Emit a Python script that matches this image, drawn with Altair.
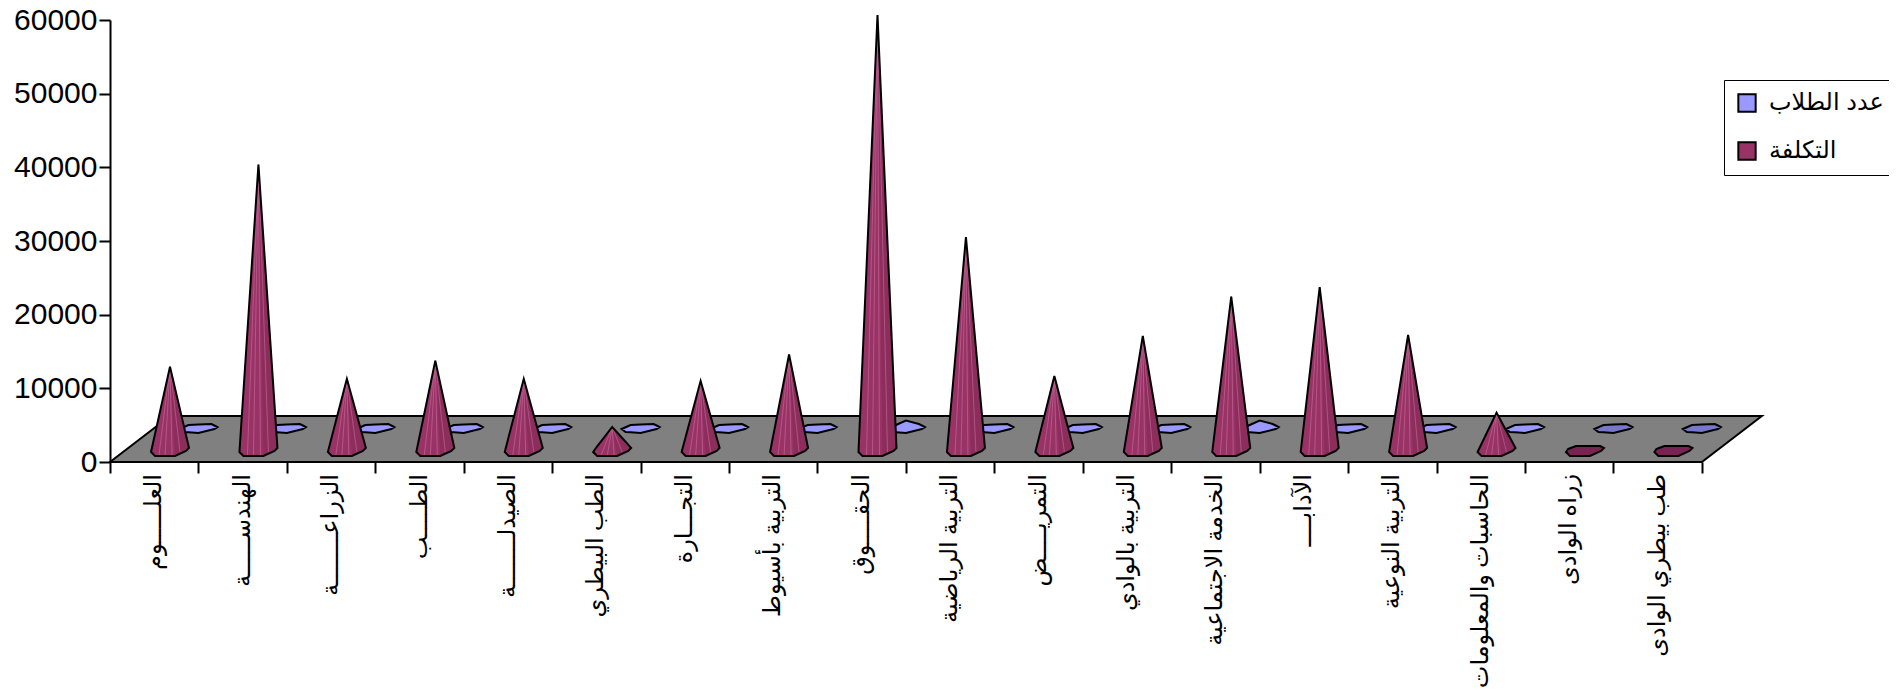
import altair as alt
import pandas as pd

categories = ["العلـــــوم", "الهندســـــة", "الزراعـــــــة", "الطــــب", "الصيدلـــــــة", "الطب البيطري",
              "التجـــارة", "التربية بأسيوط", "الحقــــوق", "التربية الرياضية", "التمريــــض",
              "التربية بالوادي", "الخدمة الاجتماعية", "الآداب‍ــــ", "التربية النوعية",
              "الحاسبات والمعلومات", "زراه الوادى", "طب بيطري الوادى"]
cost = [11440, 38880, 9800, 12270, 9800, 3260, 9500, 13100, 59180, 29050, 10180, 15610,
        20970, 22260, 15750, 5210, 0, 0]
students = [300, 300, 300, 300, 300, 300, 300, 300, 1000, 300, 300, 300, 1000, 300, 300, 300, 0, 0]
series_names = ["عدد الطلاب", "التكلفة"]
y_ticks = [0, 10000, 20000, 30000, 40000, 50000, 60000]

W, H = 1652, 442
XMAX, YMAX = 18.68, 60000
PX, PY = XMAX / W, YMAX / H   # data units per pixel

FRONT = [(-19, -1), (-17, 2), (-9, 5), (15, 5), (19, 3), (16, 0), (5, -5), (-15, -5)]
BACK = [(-19, -1), (-10, 3), (13, 4), (19, 1), (16, -1), (0, -5), (-15, -4)]


def envelope(points):
    """Upper and lower outline of a convex set of (x, y) points, y upward."""
    pts = sorted(set(points))
    def chain(pp, sign):
        out = []
        for p in pp:
            while len(out) > 1:
                a, b = out[-2], out[-1]
                if sign * ((b[0] - a[0]) * (p[1] - a[1]) - (b[1] - a[1]) * (p[0] - a[0])) >= 0:
                    out.pop()
                else:
                    break
            out.append(p)
        return out
    up, lo = chain(pts, 1), chain(pts, -1)
    def at(line, x):
        for a, b in zip(line, line[1:]):
            if a[0] <= x <= b[0]:
                return a[1] if b[0] == a[0] else a[1] + (b[1] - a[1]) * (x - a[0]) / (b[0] - a[0])
        return line[-1][1]
    xs = sorted({p[0] for p in up + lo})
    return [(x, at(up, x), at(lo, x)) for x in xs]


def shape_rows(kind, idx, name, cx, base, value, outline, extra=None):
    pts = [(dx, dy) for dx, dy in outline]
    h = value / PY
    if value > 0:
        pts.append((0, h))
    if extra is not None:
        pts = extra(h)
    return [{"id": f"{kind}{idx}", "series": name, "x": cx + x * PX, "y": base + u * PY, "y2": base + l * PY}
            for x, u, l in envelope(pts)]


cost_base = 11 * PY
stud_base = 34 * PY
rows_stud, rows_stud0, rows_cost, rows_cost0, rows_shade, rows_streak = [], [], [], [], [], []
for i, (c, s) in enumerate(zip(cost, students)):
    target = rows_stud if s > 0 else rows_stud0
    target.extend(shape_rows("s", i, series_names[0], i + 1.0, stud_base, s, BACK))
    cx = i + 60 * PX
    target = rows_cost if c > 0 else rows_cost0
    target.extend(shape_rows("c", i, series_names[1], cx, cost_base, c, FRONT))
    if c > 0:
        rows_shade.extend(shape_rows("h", i, series_names[1], cx, cost_base, c, FRONT,
                                     extra=lambda h: [(0, h), (5, -5), (19, 3)]))
        for dx, dy in [(-11, -4), (-5, -5), (2, -5), (10, -1)]:
            rows_streak.append({"x": cx, "y": cost_base + c, "x2": cx + dx * PX, "y2": cost_base + dy * PY})

top = 46 * PY
skew = 60 * PX
floor_rows = [
    {"x": 0, "y": 0, "y2": 0},
    {"x": skew, "y": top, "y2": 0},
    {"x": 18, "y": top, "y2": 0},
    {"x": 18 + skew, "y": top, "y2": top},
]

xs = alt.Scale(domain=[0, XMAX], nice=False, zero=False)
ys = alt.Scale(domain=[0, YMAX], nice=False)
x_axis = alt.Axis(values=list(range(19)), labels=False, title=None, domain=False,
                  ticks=True, tickSize=11, tickWidth=2, tickColor="black", grid=False)
y_axis = alt.Axis(values=y_ticks, title=None, grid=False, domainColor="black",
                  domainWidth=2, tickColor="black", tickWidth=2, tickSize=11,
                  labelFont="Liberation Sans", labelFontSize=30, labelColor="black",
                  labelPadding=2, format="d")
X = alt.X("x:Q", scale=xs, axis=x_axis)
Y = alt.Y("y:Q", scale=ys, axis=y_axis)
Y2 = alt.Y2("y2:Q")
color = alt.Color("series:N", scale=alt.Scale(domain=series_names, range=["#9999ff", "#993366"]),
                  sort=series_names,
                  legend=alt.Legend(title=None, orient="none", legendX=1614, legendY=60,
                                    fillColor="white", strokeColor="black", padding=11,
                                    symbolType="square", symbolSize=300, symbolStrokeColor="black",
                                    symbolStrokeWidth=2, symbolOpacity=1,
                                    labelFont="Liberation Sans, DejaVu Sans", labelFontSize=24, labelColor="black",
                                    labelOffset=10, rowPadding=22, labelLimit=200))

floor = alt.Chart(pd.DataFrame(floor_rows)).mark_area(fill="#808080", stroke="black", strokeWidth=2).encode(
    x=X, y=Y, y2=Y2)


def area_layer(rows, **kw):
    return alt.Chart(pd.DataFrame(rows)).mark_area(**kw).encode(x=X, y=Y, y2=Y2, detail="id:N")


stud_layer = alt.Chart(pd.DataFrame(rows_stud)).mark_area(stroke="black", strokeWidth=2, opacity=1).encode(
    x=X, y=Y, y2=Y2, detail="id:N", color=color)
stud0_layer = area_layer(rows_stud0, fill="#7777cc", stroke="black", strokeWidth=2)
cost_layer = alt.Chart(pd.DataFrame(rows_cost)).mark_area(opacity=1).encode(
    x=X, y=Y, y2=Y2, detail="id:N", color=color)
cost0_layer = area_layer(rows_cost0, fill="#7a2352", stroke="black", strokeWidth=2)
shade_layer = area_layer(rows_shade, fill="#7d2650", fillOpacity=0.45)
streak_layer = alt.Chart(pd.DataFrame(rows_streak)).mark_rule(color="#c9739f", strokeWidth=0.8, opacity=0.7).encode(
    x=X, x2="x2:Q", y=Y, y2=Y2)
outline_layer = area_layer(rows_cost, fill="#993366", fillOpacity=0, stroke="black", strokeWidth=2)

label_df = pd.DataFrame({"cat": categories, "x": [i + 0.5 for i in range(18)]})
label_layer = alt.Chart(label_df).mark_text(angle=270, align="right", baseline="middle",
                                            font="Liberation Serif, DejaVu Sans", fontSize=24, color="black").encode(
    x=X, y=alt.value(H + 12), text="cat:N")

chart = alt.layer(floor, stud_layer, stud0_layer, cost_layer, cost0_layer, shade_layer, streak_layer,
                  outline_layer, label_layer).properties(
    width=W, height=H,
    autosize=alt.AutoSizeParams(type="none"),
    padding={"left": 102, "top": 12, "right": 127, "bottom": 228},
).configure_view(stroke=None)

chart.save("out.html", embed_options={"renderer": "svg", "actions": False})
